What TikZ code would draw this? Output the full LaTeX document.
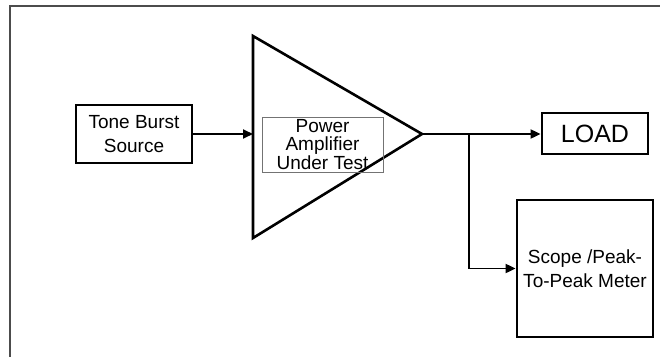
\documentclass[tikz,border=0pt]{standalone}
\usepackage{fontspec}
\setmainfont{Liberation Sans}
\usetikzlibrary{arrows.meta}

\tikzset{
  blockbox/.style={draw=black, line width=2.8pt, inner sep=0pt, align=center,
                   font=\fontsize{19}{23.5}\selectfont},
  innerbox/.style={draw=black!55, line width=0.9pt, inner sep=0pt, align=center,
                   font=\fontsize{19}{18.8}\selectfont},
  ampshape/.style={draw=black, line width=2.6pt, line join=miter},
  signal/.style={draw=black, line width=1.9pt, -{Triangle[length=10pt,width=9pt]}},
  wire/.style={draw=black, line width=1.9pt},
  frameline/.style={draw=black!70, line width=1.6pt}
}

\begin{document}
\begin{tikzpicture}[x=1pt, y=-1pt]
  \useasboundingbox (0,0) rectangle (660,356);

  % page frame (top and left edges)
  \coordinate (frameTR) at (662,6);
  \coordinate (frameTL) at (10,6);
  \coordinate (frameBL) at (10,358);
  \draw[frameline] (frameTR) -- (frameTL) -- (frameBL);

  % amplifier triangle
  \coordinate (ampTop) at (253,36);
  \coordinate (ampBot) at (253,238);
  \coordinate (ampTip) at (422,134);
  \coordinate (ampIn)  at (253,134);
  \draw[ampshape] (ampTop) -- (ampTip) -- (ampBot) -- cycle;

  % blocks
  \node[blockbox, minimum width=116pt, minimum height=58pt] (tone) at (134,134)
       {Tone Burst\\Source};
  \node[innerbox, minimum width=121pt, minimum height=55pt] (amp) at (322.5,144.5)
       {Power\\Amplifier\\Under Test};
  \node[blockbox, minimum width=106pt, minimum height=41pt,
        font=\fontsize{25}{29}\selectfont] (load) at (595,133.5) {LOAD};
  \node[blockbox, minimum width=136pt, minimum height=137pt] (scope) at (585,268.5)
       {Scope /Peak-\\To-Peak Meter};

  % signal paths
  \coordinate (split) at (469,134);
  \draw[signal] (tone.east) -- (ampIn);
  \draw[wire] (ampTip) -- (split);
  \draw[signal] (split) -- (split -| load.west);
  \draw[signal] (split) |- (scope.west);
\end{tikzpicture}
\end{document}
